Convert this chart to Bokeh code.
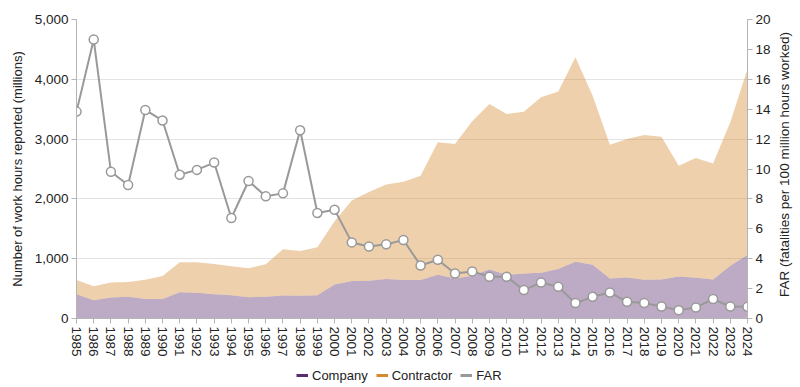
from math import pi
from bokeh.plotting import figure
from bokeh.layouts import column, row
from bokeh.models import (Range1d, LinearAxis, FixedTicker, NumeralTickFormatter,
                          Legend, LegendItem, ColumnDataSource, Label)
from bokeh.embed import file_html
from bokeh.resources import INLINE

years = list(range(1985, 2025))
company = [407, 307, 350, 362, 328, 328, 440, 430, 407, 390,
           357, 362, 385, 380, 390, 567, 628, 633, 661, 643,
           643, 731, 670, 715, 821, 731, 754, 765, 826, 949,
           899, 670, 687, 648, 654, 704, 681, 654, 882, 1061]
total = [645, 540, 600, 611, 650, 712, 940, 940, 912, 873,
         840, 906, 1157, 1128, 1190, 1628, 1973, 2117, 2240, 2288,
         2388, 2946, 2918, 3297, 3588, 3421, 3459, 3699, 3794, 4368,
         3727, 2907, 3002, 3069, 3041, 2556, 2684, 2594, 3280, 4174]
contractor = [t - c for t, c in zip(total, company)]
far = [13.84, 18.66, 9.82, 8.93, 13.95, 13.24, 9.62, 9.94, 10.43, 6.72,
       9.20, 8.17, 8.37, 12.59, 7.06, 7.28, 5.09, 4.82, 4.96, 5.25,
       3.55, 3.93, 3.01, 3.15, 2.79, 2.79, 1.90, 2.41, 2.12, 1.03,
       1.45, 1.74, 1.12, 1.03, 0.80, 0.56, 0.74, 1.30, 0.80, 0.78]
left_ticks = [0, 1000, 2000, 3000, 4000, 5000]
right_ticks = list(range(0, 21, 2))

FONT = "Liberation Sans"
TXT = "#222222"
AX = "#b5b5b5"

src = ColumnDataSource(dict(year=years, company=company, contractor=contractor,
                            top=[c + k for c, k in zip(company, contractor)],
                            zero=[0] * len(years), far=far))

# ---- main chart ----
p = figure(width=775, height=360, output_backend="svg", toolbar_location=None,
           x_range=Range1d(1985, 2024), y_range=Range1d(0, 5000),
           min_border_left=76, min_border_right=28, min_border_top=19,
           min_border_bottom=42)
p.outline_line_color = None
p.xgrid.visible = False
p.ygrid.grid_line_color = "#e3e3e3"
p.ygrid.ticker = FixedTicker(ticks=left_ticks)
p.extra_y_ranges = {"far": Range1d(0, 20)}

p.varea(x="year", y1="zero", y2="company", source=src,
        fill_color="#5b2c6f", fill_alpha=0.4)
p.varea(x="year", y1="company", y2="top", source=src,
        fill_color="#d4892f", fill_alpha=0.4)
p.line(x="year", y="far", source=src, y_range_name="far",
       line_color="#999999", line_width=2)
p.scatter(x="year", y="far", source=src, y_range_name="far", size=9,
          fill_color="white", line_color="#999999", line_width=1.5)

xa = p.xaxis[0]
xa.ticker = FixedTicker(ticks=years)
xa.major_label_orientation = "vertical"
xa.minor_tick_line_color = None

ya = p.yaxis[0]
ya.ticker = FixedTicker(ticks=left_ticks)
ya.formatter = NumeralTickFormatter(format="0,0")
ya.axis_label = "Number of work hours reported (millions)"
ya.minor_tick_line_color = None
ya.axis_label_standoff = 7

ra = LinearAxis(y_range_name="far", ticker=FixedTicker(ticks=right_ticks))
ra.minor_tick_line_color = None
p.add_layout(ra, "right")

for a in (xa, ya, ra):
    a.axis_line_color = AX
    a.major_tick_line_color = AX
    a.major_tick_out = 5
    a.major_tick_in = 0
    a.major_label_standoff = 3
    a.major_label_text_font = FONT
    a.major_label_text_font_size = "13.5px"
    a.major_label_text_color = TXT
    a.axis_label_text_font = FONT
    a.axis_label_text_font_size = "13px"
    a.axis_label_text_font_style = "normal"
    a.axis_label_text_color = TXT

# ---- right axis title strip (its frame is aligned with the main frame) ----
pr = figure(width=25, height=360, output_backend="svg", toolbar_location=None,
            x_axis_location=None, y_axis_location=None,
            x_range=Range1d(0, 1), y_range=Range1d(0, 1),
            min_border=0)
pr.outline_line_color = None
pr.grid.visible = False
pr.add_layout(Label(x=9, y=154, x_units="screen", y_units="screen", angle=pi / 2,
                    text="FAR (fatalities per 100 million hours worked)",
                    text_align="center", text_baseline="middle",
                    text_font=FONT, text_font_size="13.5px", text_color=TXT))

# ---- legend strip ----
pl = figure(width=800, height=27, output_backend="svg", toolbar_location=None,
            x_axis_location=None, y_axis_location=None,
            x_range=Range1d(1, 2), y_range=Range1d(1, 2), min_border=0)
pl.outline_line_color = None
pl.grid.visible = False
r_c = pl.line(x=[0, 0], y=[0, 0], line_color="#5b2c6f", line_width=3)
r_k = pl.line(x=[0, 0], y=[0, 0], line_color="#d4892f", line_width=3)
r_f = pl.line(x=[0, 0], y=[0, 0], line_color="#999999", line_width=3)
legend = Legend(items=[LegendItem(label="Company", renderers=[r_c]),
                       LegendItem(label="Contractor", renderers=[r_k]),
                       LegendItem(label="FAR", renderers=[r_f])],
                orientation="horizontal", location=(296, 4),
                padding=0, margin=0, spacing=8, glyph_width=12,
                glyph_height=16, label_height=16, label_standoff=4,
                label_text_font=FONT, label_text_font_size="13px",
                label_text_color=TXT, border_line_color=None,
                background_fill_alpha=0)
pl.add_layout(legend, "center")

layout = column(row(p, pr), pl)
open("out.html", "w").write(file_html(layout, INLINE))
